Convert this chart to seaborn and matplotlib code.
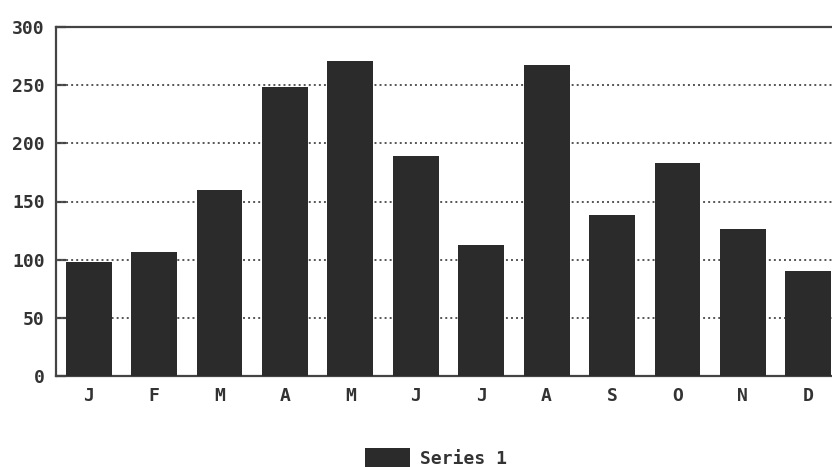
import matplotlib
matplotlib.use("Agg")
import matplotlib.pyplot as plt
import seaborn as sns
import pandas as pd

months = ["J", "F", "M", "A", "M", "J", "J", "A", "S", "O", "N", "D"]
series_1 = [98, 107, 160, 248, 271, 189, 113, 267, 138, 183, 126, 90]
y_ticks = [0, 50, 100, 150, 200, 250, 300]
y_tick_labels = ["0", "50", "100", "150", "200", "250", "300"]

sns.set_theme(style="white")
plt.rcParams["font.family"] = ["DejaVu Sans Mono", "DejaVu Sans"]
plt.rcParams["font.weight"] = "bold"

df = pd.DataFrame({"pos": range(len(months)), "value": series_1})

fig = plt.figure(figsize=(8.32, 4.67), dpi=100)
fig.patch.set_facecolor("white")
W, H = 832, 467
ax = fig.add_axes([56 / W, 1 - 376 / H, 785 / W, (376 - 27) / H])

sns.barplot(data=df, x="pos", y="value", color="#2b2b2b", saturation=1,
            width=0.70, ax=ax, zorder=3, label="Series 1",
            edgecolor="#2b2b2b", linewidth=0)

ax.set_xlim(-0.5, 11.5)
ax.set_ylim(0, 300)
ax.set_yticks(y_ticks)
ax.set_yticklabels(y_tick_labels)
ax.set_xticks(range(len(months)))
ax.set_xticklabels(months)
ax.set_xlabel("")
ax.set_ylabel("")

for y in y_ticks[1:-1]:
    ax.axhline(y, color="#555555", linestyle=(0, (1.0, 1.6)), linewidth=1.4, zorder=1)

for side in ["left", "top", "bottom"]:
    ax.spines[side].set_visible(True)
    ax.spines[side].set_color("#444444")
    ax.spines[side].set_linewidth(1.6)
ax.spines["right"].set_visible(False)

ax.tick_params(axis="y", direction="in", length=7, width=1.6, color="#444444",
               labelsize=13, labelcolor="#333333", pad=8, left=True)
ax.tick_params(axis="x", length=0, labelsize=13, labelcolor="#333333", pad=8)
for lbl in ax.get_xticklabels() + ax.get_yticklabels():
    lbl.set_fontweight("bold")

handles, labels = ax.get_legend_handles_labels()
if ax.get_legend() is not None:
    ax.get_legend().remove()
fig.legend(handles, labels, loc="center", bbox_to_anchor=(436 / W, 1 - 458 / H),
           frameon=False, prop={"size": 13, "weight": "bold"},
           handlelength=2.5, handleheight=1.2, handletextpad=0.6,
           labelcolor="#333333")

fig.savefig("out.png", dpi=100, facecolor="white")
